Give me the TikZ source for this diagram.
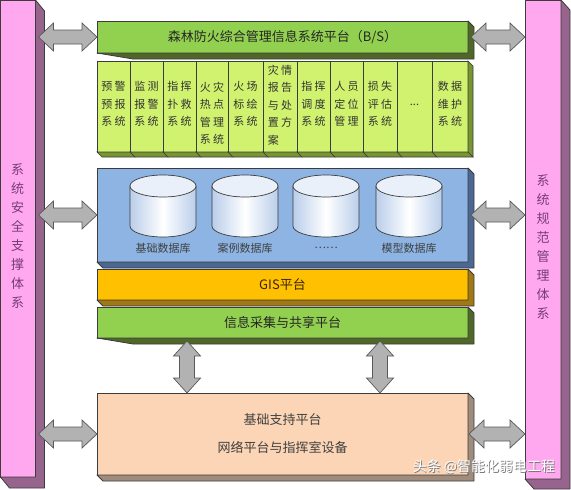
\documentclass[tikz,border=0pt]{standalone}
\usepackage{fontspec}
\newfontfamily\cjk{Noto Sans CJK SC}
\usetikzlibrary{calc}
\definecolor{grf}{RGB}{146,208,80}
\definecolor{grs}{RGB}{79,104,40}
\definecolor{subf}{RGB}{208,242,110}
\definecolor{subs}{RGB}{120,150,48}
\definecolor{blf}{RGB}{141,180,226}
\definecolor{bls}{RGB}{74,104,146}
\definecolor{orf}{RGB}{255,192,0}
\definecolor{ors}{RGB}{160,120,20}
\definecolor{pef}{RGB}{251,213,181}
\definecolor{pes}{RGB}{160,140,124}
\definecolor{pkf}{RGB}{255,168,240}
\definecolor{pks}{RGB}{150,100,140}
\definecolor{arf}{RGB}{178,178,178}
\definecolor{edgec}{RGB}{60,60,60}
\definecolor{cylb}{RGB}{186,206,234}
\definecolor{pktxt}{RGB}{120,60,118}
\newcommand{\ckern}{\kern2.5pt}
\newcommand{\extr}[5]{%
 \filldraw[fill=#5, draw=edgec, line width=0.8pt, line join=round]
  (#1.north east) -- ($(#1.north east)+(#2,#3)$) -- ($(#1.south east)+(#2,#3)$)
  -- ($(#1.south west)+(#4,#3)$) -- (#1.south west) -- (#1.south east) -- cycle;}
\newcommand{\harrow}[2]{%
 \filldraw[blockarr] let \p1=#1, \p2=#2 in
  (\x1,\y1) -- (\x1+15pt,\y1+14pt) -- (\x1+15pt,\y1+7pt) -- (\x2-15pt,\y1+7pt)
  -- (\x2-15pt,\y1+14pt) -- (\x2,\y1) -- (\x2-15pt,\y1-14pt) -- (\x2-15pt,\y1-7pt)
  -- (\x1+15pt,\y1-7pt) -- (\x1+15pt,\y1-14pt) -- cycle;}
\newcommand{\varrow}[2]{%
 \filldraw[blockarr] let \p1=#1, \p2=#2 in
  (\x1,\y1) -- (\x1+13.5pt,\y1-15pt) -- (\x1+7.5pt,\y1-15pt) -- (\x1+7.5pt,\y2+15pt)
  -- (\x1+13.5pt,\y2+15pt) -- (\x1,\y2) -- (\x1-13.5pt,\y2+15pt) -- (\x1-7.5pt,\y2+15pt)
  -- (\x1-7.5pt,\y1-15pt) -- (\x1-13.5pt,\y1-15pt) -- cycle;}
\newcommand{\subbox}[5]{%
 \node[face, fill=subf, minimum width={#3-#2}, minimum height=91] (#1) at (#2,61) {};
 \node[subtxt, anchor=north] at ($(#1.north)+(0,#5)$) {#4};
 \filldraw[fill=subs, draw=edgec, line width=0.6pt] (#1.south west) -- (#1.south east)
  -- ($(#1.south east)+(5,5)$) -- ($(#1.south west)+(5,5)$) -- cycle;}
\newcommand{\dbcyl}[3]{%
 \coordinate (#1) at (#2,186);
 \shade[left color=cylb, right color=cylb, middle color=white, draw=edgec, line width=0.7pt]
  ($(#1)+(-33,0)$) -- ($(#1)+(-33,40)$) arc[start angle=180, end angle=360, x radius=33pt, y radius=11pt]
  -- ($(#1)+(33,0)$) -- cycle;
 \filldraw[fill=white!70!cylb, draw=edgec, line width=0.7pt] (#1) ellipse[x radius=33pt, y radius=11pt];
 \node[dblabel] at ($(#1)+(0,62)$) {#3};}
\tikzset{
 face/.style={draw=edgec, line width=0.8pt, inner sep=0pt, outer sep=0pt, anchor=north west,
   font=\cjk\fontsize{13}{15}\selectfont},
 blockarr/.style={fill=arf, draw=edgec!85, line width=0.7pt, line join=miter},
 subtxt/.style={inner sep=0pt, align=center, text=black!80, font=\cjk\fontsize{11}{17.5}\selectfont},
 dblabel/.style={inner sep=0pt, text=black!75, font=\cjk\fontsize{11}{13}\selectfont},
 pilltxt/.style={inner sep=0pt, align=center, text=pktxt, font=\cjk\fontsize{13}{19}\selectfont},
}
\begin{document}
\begin{tikzpicture}[x=1pt,y=-1pt]
\useasboundingbox (0,0) rectangle (571,490);
\fill[white] (0,0) rectangle (571,490);
% pillars
\node[face, fill=pkf, minimum width=35, minimum height=477] (lp) at (0.5,0) {};
\extr{lp}{9}{11}{9}{pks}
\node[pilltxt] at (17.5,236.5) {系\\统\\安\\全\\支\\撑\\体\\系};
\node[face, fill=pkf, minimum width=36, minimum height=479] (rp) at (525,0) {};
\extr{rp}{9}{10}{9}{pks}
\node[pilltxt] at (543,247) {系\\统\\规\\范\\管\\理\\体\\系};
% top platform
\node[face, fill=grf, minimum width=371, minimum height=32, text=black!85] (top) at (97,21) {森林防火综合管理信息系统平台（B/S）};
\extr{top}{6}{6}{36}{grs}
% subsystems
\subbox{s1}{97}{130}{预\ckern 警\\预\ckern 报\\系\ckern 统}{20.5}
\subbox{s2}{130}{163}{监\ckern 测\\报\ckern 警\\系\ckern 统}{20.5}
\subbox{s3}{163}{196}{指\ckern 挥\\扑\ckern 救\\系\ckern 统}{20.5}
\subbox{s4}{196}{228}{火\ckern 灾\\热\ckern 点\\管\ckern 理\\系\ckern 统}{20.5}
\subbox{s5}{228}{263}{火\ckern 场\\标\ckern 绘\\系\ckern 统}{20.5}
\subbox{s6}{263}{297}{灾\ckern 情\\报\ckern 告\\与\ckern 处\\置\ckern 方\\案\phantom{\ckern 案}}{3.5}
\subbox{s7}{297}{330}{指\ckern 挥\\调\ckern 度\\系\ckern 统}{20.5}
\subbox{s8}{330}{363}{人\ckern 员\\定\ckern 位\\管\ckern 理}{20.5}
\subbox{s9}{363}{397}{损\ckern 失\\评\ckern 估\\系\ckern 统}{20.5}
\subbox{s10}{397}{432}{}{20.5}
\node[subtxt] at ($(s10.north)+(0,44)$) {...};
\subbox{s11}{432}{468}{数\ckern 据\\维\ckern 护\\系\ckern 统}{20.5}
\filldraw[fill=subs, draw=edgec, line width=0.6pt] (s11.north east) -- ($(s11.north east)+(5,5)$)
  -- ($(s11.south east)+(5,5)$) -- (s11.south east) -- cycle;
% database layer
\node[face, fill=blf, minimum width=371, minimum height=94] (db) at (97,168) {};
\extr{db}{6}{6}{6}{bls}
\dbcyl{c1}{163}{基础数据库}
\dbcyl{c2}{245}{案例数据库}
\dbcyl{c3}{326}{……}
\dbcyl{c4}{409}{模型数据库}
% GIS
\node[face, fill=orf, minimum width=371, minimum height=31, text=black!70!brown] (gis) at (97,269) {GIS平台};
\extr{gis}{6}{6}{6}{ors}
% info
\node[face, fill=grf, minimum width=371, minimum height=31, text=black!85] (info) at (97,307) {信息采集与共享平台};
\extr{info}{6}{6}{36}{grs}
% base
\node[face, fill=pef, minimum width=371, minimum height=82, align=center, text=black!75,
  font=\cjk\fontsize{13}{28}\selectfont] (base) at (97,393) {基础支持平台\\网络平台与指挥室设备};
\extr{base}{6}{6}{6}{pes}
% arrows
\harrow{($(lp.east|-top.west)+(3,0)$)}{(top.west)}
\harrow{($(lp.east|-db.west)+(3,0)$)}{(db.west)}
\harrow{($(lp.east|-base.west)+(3,0)$)}{(base.west)}
\harrow{($(top.east)+(3,0)$)}{(rp.west|-top.east)}
\harrow{($(db.east)+(3,0)$)}{(rp.west|-db.east)}
\harrow{($(base.east)+(1,0)$)}{(rp.west|-base.east)}
\coordinate (v1) at (187,341);
\coordinate (v2) at (380,341);
\varrow{(v1)}{(base.north-|v1)}
\varrow{(v2)}{(base.north-|v2)}
% watermark
\node[text=black!55, font=\cjk\fontsize{14}{14}\selectfont] at (484.8,467.8) {头条 @智能化弱电工程};
\node[text=white, font=\cjk\fontsize{14}{14}\selectfont] (wm) at (484,467) {头条 @智能化弱电工程};
\end{tikzpicture}
\end{document}
